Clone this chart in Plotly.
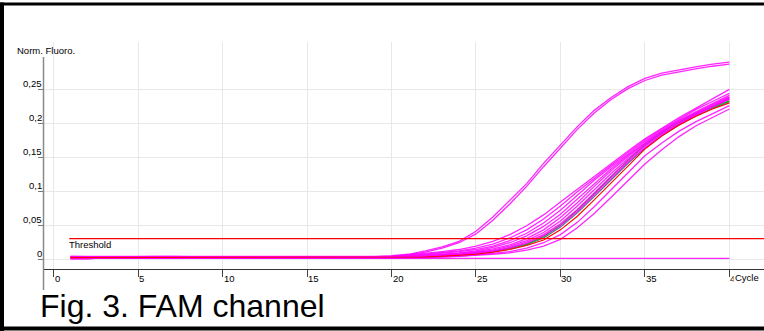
import plotly.graph_objects as go

# ---------------- data ----------------
cycles = list(range(1, 41))

early_a = [0.004, 0.004, 0.003, 0.003, 0.004, 0.004, 0.003, 0.003, 0.003, 0.003,
           0.004, 0.004, 0.004, 0.004, 0.003, 0.003, 0.003, 0.003, 0.004, 0.005,
           0.007, 0.012, 0.018, 0.026, 0.041, 0.062, 0.086, 0.111, 0.141, 0.168,
           0.195, 0.219, 0.238, 0.254, 0.266, 0.274, 0.279, 0.283, 0.287, 0.290]
early_b = [0.003, 0.003, 0.003, 0.003, 0.003, 0.004, 0.004, 0.003, 0.003, 0.003,
           0.003, 0.004, 0.004, 0.004, 0.004, 0.003, 0.003, 0.003, 0.003, 0.004,
           0.006, 0.010, 0.016, 0.024, 0.037, 0.057, 0.081, 0.107, 0.136, 0.164,
           0.191, 0.215, 0.235, 0.251, 0.263, 0.271, 0.276, 0.280, 0.284, 0.287]
mag_u1 = [0.004, 0.003, 0.003, 0.003, 0.004, 0.004, 0.004, 0.003, 0.003, 0.003,
          0.003, 0.003, 0.004, 0.004, 0.004, 0.003, 0.003, 0.003, 0.003, 0.004,
          0.006, 0.008, 0.011, 0.014, 0.019, 0.026, 0.036, 0.049, 0.065, 0.084,
          0.103, 0.122, 0.141, 0.159, 0.177, 0.193, 0.208, 0.222, 0.236, 0.250]
mag_u2 = [0.000, 0.000, 0.002, 0.002, 0.003, 0.003, 0.003, 0.002, 0.002, 0.001,
          0.002, 0.003, 0.003, 0.003, 0.003, 0.002, 0.002, 0.002, 0.002, 0.003,
          0.005, 0.007, 0.009, 0.012, 0.016, 0.022, 0.031, 0.043, 0.059, 0.078,
          0.099, 0.119, 0.138, 0.157, 0.175, 0.191, 0.206, 0.220, 0.232, 0.244]
mag_u3 = [0.002, 0.002, 0.002, 0.002, 0.003, 0.003, 0.003, 0.003, 0.002, 0.002,
          0.002, 0.003, 0.003, 0.003, 0.003, 0.003, 0.002, 0.002, 0.002, 0.003,
          0.004, 0.006, 0.008, 0.011, 0.014, 0.019, 0.027, 0.038, 0.053, 0.072,
          0.094, 0.116, 0.136, 0.155, 0.173, 0.189, 0.204, 0.217, 0.229, 0.241]
mag_m1 = [0.001, 0.001, 0.002, 0.002, 0.002, 0.003, 0.003, 0.002, 0.001, 0.001,
          0.002, 0.002, 0.003, 0.003, 0.002, 0.002, 0.001, 0.001, 0.002, 0.003,
          0.004, 0.005, 0.007, 0.009, 0.012, 0.017, 0.024, 0.034, 0.048, 0.066,
          0.088, 0.111, 0.133, 0.153, 0.171, 0.188, 0.203, 0.216, 0.228, 0.239]
mag_m2 = [0.003, 0.002, 0.002, 0.002, 0.003, 0.003, 0.002, 0.002, 0.002, 0.002,
          0.003, 0.003, 0.003, 0.003, 0.002, 0.002, 0.002, 0.002, 0.003, 0.003,
          0.003, 0.004, 0.006, 0.008, 0.011, 0.015, 0.021, 0.030, 0.043, 0.061,
          0.083, 0.107, 0.130, 0.151, 0.170, 0.187, 0.202, 0.215, 0.227, 0.238]
mag_m3 = [0.002, 0.002, 0.002, 0.003, 0.003, 0.003, 0.002, 0.002, 0.001, 0.001,
          0.002, 0.002, 0.002, 0.002, 0.002, 0.002, 0.001, 0.001, 0.002, 0.002,
          0.003, 0.004, 0.005, 0.007, 0.010, 0.013, 0.019, 0.027, 0.039, 0.056,
          0.078, 0.102, 0.126, 0.148, 0.168, 0.185, 0.200, 0.213, 0.225, 0.236]
mag_m4 = [0.003, 0.003, 0.003, 0.003, 0.003, 0.003, 0.003, 0.003, 0.002, 0.002,
          0.002, 0.003, 0.003, 0.003, 0.003, 0.002, 0.002, 0.002, 0.002, 0.002,
          0.003, 0.004, 0.005, 0.006, 0.009, 0.012, 0.017, 0.025, 0.036, 0.052,
          0.073, 0.098, 0.122, 0.145, 0.166, 0.184, 0.199, 0.213, 0.225, 0.237]
mag_m5 = [0.001, 0.001, 0.001, 0.002, 0.002, 0.002, 0.002, 0.002, 0.001, 0.001,
          0.001, 0.002, 0.002, 0.002, 0.002, 0.001, 0.001, 0.001, 0.001, 0.002,
          0.002, 0.003, 0.004, 0.006, 0.008, 0.011, 0.016, 0.023, 0.034, 0.049,
          0.070, 0.094, 0.119, 0.143, 0.164, 0.182, 0.198, 0.212, 0.224, 0.235]
mag_l1 = [0.002, 0.002, 0.002, 0.002, 0.002, 0.002, 0.002, 0.002, 0.002, 0.001,
          0.001, 0.002, 0.002, 0.002, 0.002, 0.002, 0.001, 0.001, 0.001, 0.002,
          0.002, 0.003, 0.003, 0.004, 0.006, 0.008, 0.011, 0.016, 0.024, 0.036,
          0.054, 0.077, 0.102, 0.128, 0.152, 0.171, 0.188, 0.202, 0.214, 0.226]
mag_l2 = [0.001, 0.001, 0.001, 0.001, 0.002, 0.002, 0.002, 0.001, 0.001, 0.001,
          0.001, 0.001, 0.002, 0.002, 0.002, 0.001, 0.001, 0.001, 0.001, 0.002,
          0.002, 0.002, 0.003, 0.004, 0.005, 0.007, 0.009, 0.013, 0.019, 0.029,
          0.046, 0.067, 0.091, 0.116, 0.140, 0.161, 0.180, 0.196, 0.209, 0.221]
mag_flat = [0.001, 0.001, 0.001, 0.001, 0.001, 0.001, 0.001, 0.001, 0.001, 0.001,
            0.001, 0.001, 0.001, 0.001, 0.001, 0.001, 0.001, 0.001, 0.001, 0.001,
            0.001, 0.001, 0.001, 0.001, 0.001, 0.001, 0.001, 0.001, 0.001, 0.001,
            0.001, 0.001, 0.001, 0.001, 0.001, 0.001, 0.001, 0.001, 0.001, 0.001]
green_curve = [0.002, 0.002, 0.002, 0.002, 0.002, 0.002, 0.002, 0.002, 0.002, 0.002,
               0.002, 0.002, 0.002, 0.002, 0.002, 0.002, 0.001, 0.001, 0.002, 0.002,
               0.003, 0.003, 0.004, 0.006, 0.008, 0.011, 0.016, 0.022, 0.033, 0.050,
               0.072, 0.096, 0.121, 0.146, 0.168, 0.186, 0.201, 0.214, 0.224, 0.233]
red_curve = [0.002, 0.002, 0.002, 0.002, 0.002, 0.002, 0.002, 0.002, 0.002, 0.002,
             0.002, 0.002, 0.002, 0.002, 0.002, 0.002, 0.002, 0.002, 0.002, 0.002,
             0.002, 0.003, 0.004, 0.005, 0.007, 0.010, 0.014, 0.020, 0.028, 0.043,
             0.063, 0.087, 0.112, 0.138, 0.162, 0.181, 0.197, 0.210, 0.221, 0.230]
gray_curve = [0.002, 0.002, 0.002, 0.002, 0.002, 0.002, 0.002, 0.002, 0.002, 0.002,
              0.002, 0.002, 0.002, 0.002, 0.002, 0.002, 0.002, 0.002, 0.002, 0.002,
              0.003, 0.004, 0.005, 0.006, 0.008, 0.011, 0.015, 0.021, 0.031, 0.047,
              0.068, 0.092, 0.117, 0.141, 0.163, 0.182, 0.197, 0.211, 0.222, 0.232]

magenta_series = [early_a, early_b, mag_u1, mag_u2, mag_u3, mag_m1, mag_m2, mag_m3,
                  mag_m4, mag_m5, mag_l1, mag_l2, mag_flat]

threshold = 0.030
threshold_start = 0.92

x_ticks = [0, 5, 10, 15, 20, 25, 30, 35, 40]
x_tick_labels = ["0", "5", "10", "15", "20", "25", "30", "35", "40"]
y_ticks = [0, 0.05, 0.1, 0.15, 0.2, 0.25]
y_tick_labels = ["0", "0,05", "0,1", "0,15", "0,2", "0,25"]

# ---------------- layout geometry ----------------
W, H = 764, 331
ML, MR, MT, MB = 44, 0, 42, 62
PW, PH = W - ML - MR, H - MT - MB
x_range = [-0.574, 42.05]
y_range = [-0.0147, 0.3197]
FONT = "Liberation Sans, Arial, sans-serif"


def px(x):
    return (x - ML) / PW


def py(y):
    return (H - MB - y) / PH


fig = go.Figure()

for ys, col in [(gray_curve, "#3f7f7f"), (green_curve, "#00c000")]:
    fig.add_trace(go.Scatter(x=cycles, y=ys, mode="lines",
                             line=dict(color=col, width=1.2), hoverinfo="skip"))
for ys in magenta_series:
    fig.add_trace(go.Scatter(x=cycles, y=ys, mode="lines",
                             line=dict(color="#ff00ff", width=1.3), opacity=0.85,
                             hoverinfo="skip"))
fig.add_trace(go.Scatter(x=cycles, y=red_curve, mode="lines",
                         line=dict(color="#ff0000", width=1.1), hoverinfo="skip"))

shapes = []
# threshold line
shapes.append(dict(type="line", xref="x", yref="y", x0=threshold_start, x1=x_range[1],
                   y0=threshold, y1=threshold, line=dict(color="#ff0000", width=1.2)))
# y axis line (extends beyond plot area)
shapes.append(dict(type="line", xref="paper", yref="paper", x0=px(43.5), x1=px(43.5),
                   y0=py(290), y1=py(57), line=dict(color="#8a8a8a", width=1.5)))
# black frame
shapes.append(dict(type="line", xref="paper", yref="paper", x0=px(0), x1=px(764),
                   y0=py(4), y1=py(4), line=dict(color="#000000", width=3)))
shapes.append(dict(type="line", xref="paper", yref="paper", x0=px(2), x1=px(2),
                   y0=py(331), y1=py(2.5), line=dict(color="#000000", width=4)))
shapes.append(dict(type="line", xref="paper", yref="paper", x0=px(0), x1=px(764),
                   y0=py(328.5), y1=py(328.5), line=dict(color="#000000", width=4)))

annotations = []
for xv, t in zip(x_ticks, x_tick_labels):
    annotations.append(dict(x=xv, xref="x", y=py(278.5), yref="paper", text=t,
                            showarrow=False, xanchor="left", yanchor="middle", xshift=-1,
                            font=dict(family=FONT, size=9.5, color="#000000")))
for yv, t in zip(y_ticks, y_tick_labels):
    annotations.append(dict(x=px(44), xref="paper", y=yv, yref="y", text=t,
                            showarrow=False, xanchor="right", yanchor="middle",
                            yshift=5.5, xshift=0,
                            font=dict(family=FONT, size=9.5, color="#000000")))
annotations.append(dict(x=px(735), xref="paper", y=py(277.5), yref="paper", text="Cycle",
                        showarrow=False, xanchor="left", yanchor="middle", xshift=-2,
                        bgcolor="#ffffff",
                        font=dict(family=FONT, size=9.5, color="#000000")))
annotations.append(dict(x=px(17), xref="paper", y=py(50), yref="paper", text="Norm. Fluoro.",
                        showarrow=False, xanchor="left", yanchor="middle", xshift=-2,
                        font=dict(family=FONT, size=9.5, color="#000000")))
annotations.append(dict(x=threshold_start, xref="x", y=threshold, yref="y", text="Threshold",
                        showarrow=False, xanchor="left", yanchor="middle", xshift=-2,
                        yshift=-6.3, font=dict(family=FONT, size=9.5, color="#000000")))
annotations.append(dict(x=px(40), xref="paper", y=py(306), yref="paper",
                        text="Fig. 3. FAM channel", showarrow=False,
                        xanchor="left", yanchor="middle", xshift=-2,
                        font=dict(family=FONT, size=32, color="#000000")))

fig.update_layout(
    width=W, height=H,
    margin=dict(l=ML, r=MR, t=MT, b=MB, pad=0),
    paper_bgcolor="#ffffff", plot_bgcolor="#ffffff",
    showlegend=False,
    shapes=shapes, annotations=annotations,
    xaxis=dict(range=x_range, tickvals=x_ticks, showticklabels=False,
               ticks="outside", ticklen=7, tickcolor="#444444", tickwidth=1,
               showgrid=True, gridcolor="#e8e8e8", gridwidth=1,
               showline=True, linecolor="#333333", linewidth=1,
               zeroline=False, fixedrange=True),
    yaxis=dict(range=y_range, tickvals=y_ticks, showticklabels=False,
               ticks="outside", ticklen=5, tickcolor="#777777", tickwidth=1,
               showgrid=True, gridcolor="#e8e8e8", gridwidth=1,
               showline=False, zeroline=False, fixedrange=True),
)

fig.write_html("out.html", config={"displayModeBar": False})
